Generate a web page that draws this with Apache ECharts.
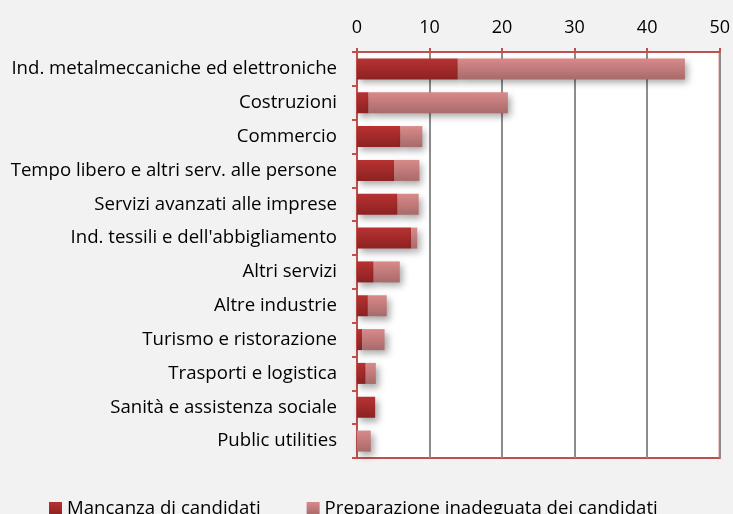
<!DOCTYPE html>
<html lang="it">
<head>
<meta charset="UTF-8">
<title>Motivi di difficoltà</title>
<script src="https://cdn.jsdelivr.net/npm/echarts@6/dist/echarts.min.js"></script>
<style>
  html, body { margin: 0; padding: 0; background: #f2f2f2; }
  #main { width: 733px; height: 514px; }
</style>
</head>
<body>
<div id="main"></div>
<script>
var categorie = [
  'Ind. metalmeccaniche ed elettroniche',
  'Costruzioni',
  'Commercio',
  'Tempo libero e altri serv. alle persone',
  'Servizi avanzati alle imprese',
  "Ind. tessili e dell'abbigliamento",
  'Altri servizi',
  'Altre industrie',
  'Turismo e ristorazione',
  'Trasporti e logistica',
  'Sanità e assistenza sociale',
  'Public utilities'
];
var mancanza = [13.9, 1.6, 6.0, 5.1, 5.6, 7.5, 2.3, 1.5, 0.7, 1.2, 2.5, 0];
var preparazione = [31.3, 19.2, 3.0, 3.5, 2.9, 0.8, 3.6, 2.6, 3.1, 1.4, 0, 1.9];

var rosso = '#c0504d';
var font = 'Open Sans';

function grad(top, bottom) {
  return new echarts.graphic.LinearGradient(0, 0, 0, 1, [
    { offset: 0, color: top },
    { offset: 1, color: bottom }
  ]);
}

var chart = echarts.init(document.getElementById('main'));
chart.setOption({
  backgroundColor: '#f2f2f2',
  animation: false,
  textStyle: { fontFamily: font },
  grid: {
    left: 357, right: 10, top: 52, bottom: 56,
    show: true, backgroundColor: '#ffffff',
    borderColor: rosso, borderWidth: 2
  },
  legend: {
    top: 494, left: 44,
    itemGap: 46, itemWidth: 13, itemHeight: 13,
    textStyle: { fontSize: 18.6, color: '#000', fontFamily: font },
    data: [
      { name: 'Mancanza di candidati', icon: 'rect', itemStyle: { color: grad('#b83232', '#8c2222') } },
      { name: 'Preparazione inadeguata dei candidati', icon: 'rect', itemStyle: { color: grad('#d98a8a', '#a86a6a') } }
    ]
  },
  xAxis: {
    type: 'value', position: 'top',
    min: 0, max: 50, interval: 10,
    axisLine: { show: true, lineStyle: { color: rosso, width: 2 } },
    axisTick: { show: true, length: 4, lineStyle: { color: rosso, width: 2 } },
    axisLabel: { color: '#000', fontSize: 18, margin: 15 },
    splitLine: { show: true, lineStyle: { color: '#8c8c8c', width: 2 } }
  },
  yAxis: {
    type: 'category', inverse: true,
    data: categorie,
    axisLine: { show: true, lineStyle: { color: rosso, width: 2 } },
    axisTick: { show: true, length: 5, lineStyle: { color: rosso, width: 2 } },
    axisLabel: { color: '#000', fontSize: 18.6, margin: 20 }
  },
  series: [
    {
      name: 'Mancanza di candidati', type: 'bar', stack: 'tot',
      barWidth: 21, data: mancanza,
      itemStyle: {
        color: grad('#b83232', '#8c2222'),
        shadowColor: 'rgba(0,0,0,0.35)', shadowBlur: 7, shadowOffsetX: 3, shadowOffsetY: 4
      }
    },
    {
      name: 'Preparazione inadeguata dei candidati', type: 'bar', stack: 'tot',
      barWidth: 21, data: preparazione,
      itemStyle: {
        color: grad('#d98a8a', '#a86a6a'),
        shadowColor: 'rgba(0,0,0,0.35)', shadowBlur: 7, shadowOffsetX: 3, shadowOffsetY: 4
      }
    }
  ]
});
</script>
</body>
</html>
